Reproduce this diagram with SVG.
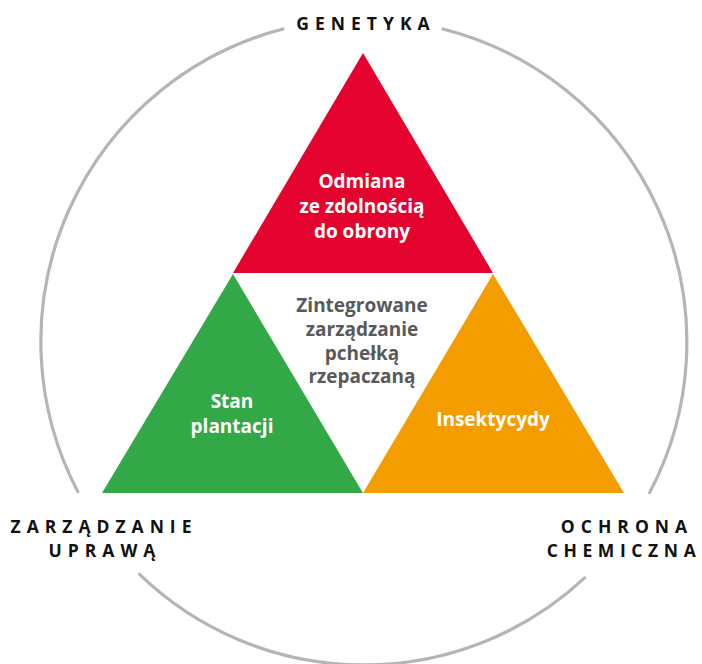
<svg xmlns="http://www.w3.org/2000/svg" width="702" height="664" viewBox="0 0 702 664">
<style>
.ring{fill:none;stroke:#b5b5b5;stroke-width:3.2;stroke-linecap:round}
.outer{font-family:"Open Sans","Liberation Sans",sans-serif;font-weight:700;font-size:17.5px;fill:#111;letter-spacing:6px;text-anchor:middle}
.inner{font-family:"Open Sans","Liberation Sans",sans-serif;font-weight:700;font-size:19px;text-anchor:middle}
.w{fill:#ffffff}
.g{fill:#595959}
</style>
<rect width="702" height="664" fill="#ffffff"/>
<g id="connectors">
<path class="ring" d="M283,29 A323,323 0 0 0 77.8,491.7"/>
<path class="ring" d="M443,29 A323,323 0 0 1 649.7,492.6"/>
<path class="ring" d="M139.6,574.3 A323,323 0 0 0 584.6,577.9"/>
</g>
<g id="genetyka">
<text class="outer" x="366" y="30">GENETYKA</text>
</g>
<g id="zarzadzanie-uprawa">
<text class="outer" x="104" y="533">ZARZĄDZANIE</text>
<text class="outer" x="105" y="557">UPRAWĄ</text>
</g>
<g id="ochrona-chemiczna">
<text class="outer" x="627" y="533">OCHRONA</text>
<text class="outer" x="624" y="557" style="letter-spacing:5.6px">CHEMICZNA</text>
</g>
<g id="odmiana">
<polygon points="363,53 233,273 493,273" fill="#e4032e"/>
<text class="inner w" x="362" y="188.3">Odmiana</text>
<text class="inner w" x="362" y="213.3">ze zdolnością</text>
<text class="inner w" x="362" y="238.3">do obrony</text>
</g>
<g id="stan-plantacji">
<polygon points="233,274 102,493 363,493" fill="#33a846"/>
<text class="inner w" x="232" y="408.3">Stan</text>
<text class="inner w" x="232" y="433.3">plantacji</text>
</g>
<g id="insektycydy">
<polygon points="493,274 363,493 624,493" fill="#f49d00"/>
<text class="inner w" x="493" y="425.7">Insektycydy</text>
</g>
<g id="center">
<text class="inner g" x="362" y="311.7">Zintegrowane</text>
<text class="inner g" x="362" y="335.5">zarządzanie</text>
<text class="inner g" x="362" y="359.5">pchełką</text>
<text class="inner g" x="362" y="383.3">rzepaczaną</text>
</g>
</svg>
